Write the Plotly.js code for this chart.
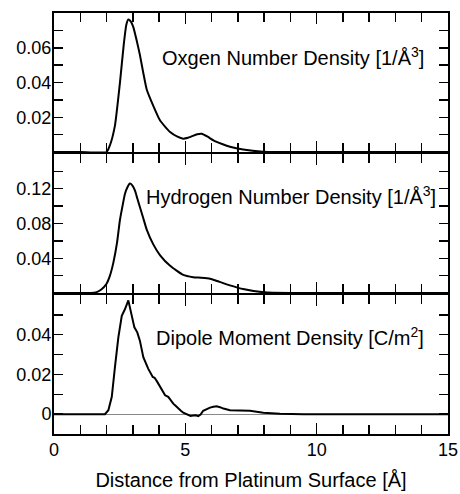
<!DOCTYPE html>
<html>
<head>
<meta charset="utf-8">
<script src="https://cdn.plot.ly/plotly-3.0.1.min.js"></script>
<style>html,body{margin:0;padding:0;background:#fff;}#chart{width:460px;height:494px;}</style>
</head>
<body>
<div id="chart"></div>
<script>
// Oxygen number density [1/Å^3]
const oxygenX = [0, 1.0, 2.0, 2.13, 2.32, 2.51, 2.66, 2.75, 2.83, 2.92, 3.02, 3.15, 3.27, 3.4, 3.53, 3.78, 4.04, 4.42, 4.7, 4.92, 5.1, 5.24, 5.45, 5.62, 5.85, 6.07, 6.4, 6.7, 7.2, 7.96, 9, 12, 15];
const oxygenY = [0, 0, 0, 0.0039, 0.0152, 0.0398, 0.0625, 0.073, 0.0763, 0.0752, 0.0719, 0.064, 0.0559, 0.0455, 0.036, 0.0266, 0.0181, 0.0115, 0.0088, 0.0077, 0.0082, 0.009, 0.0102, 0.0105, 0.0088, 0.0067, 0.0046, 0.003, 0.0014, 0.0002, 0, 0, 0];

// Hydrogen number density [1/Å^3]
const hydrogenX = [0, 1.0, 1.4, 1.62, 1.8, 2.0, 2.13, 2.26, 2.4, 2.51, 2.62, 2.7, 2.8, 2.89, 2.98, 3.08, 3.17, 3.27, 3.4, 3.53, 3.78, 4.04, 4.42, 4.92, 5.3, 5.6, 5.94, 6.3, 6.7, 7.2, 8.0, 9, 12, 15];
const hydrogenY = [0, 0, 0, 0.001, 0.004, 0.0107, 0.02, 0.035, 0.058, 0.084, 0.102, 0.114, 0.122, 0.126, 0.124, 0.118, 0.109, 0.099, 0.086, 0.073, 0.056, 0.0434, 0.0313, 0.0208, 0.0182, 0.0175, 0.0163, 0.0128, 0.0088, 0.0045, 0.0008, 0, 0, 0];

// Dipole moment density [C/m^2]
const dipoleX = [0, 1.0, 1.94, 2.07, 2.2, 2.32, 2.45, 2.58, 2.7, 2.83, 2.96, 3.06, 3.17, 3.27, 3.4, 3.59, 3.76, 3.83, 3.92, 4.04, 4.15, 4.23, 4.35, 4.45, 4.54, 4.63, 4.73, 4.82, 4.92, 5.01, 5.11, 5.2, 5.3, 5.4, 5.49, 5.58, 5.68, 5.8, 5.94, 6.07, 6.19, 6.32, 6.45, 6.7, 7.0, 7.46, 7.97, 8.6, 9.5, 12, 15];
const dipoleY = [0, 0, 0, 0.002, 0.0087, 0.0237, 0.0387, 0.0495, 0.0528, 0.0573, 0.0495, 0.0437, 0.0412, 0.037, 0.0287, 0.0228, 0.0187, 0.0183, 0.0165, 0.0137, 0.0115, 0.0095, 0.0087, 0.0068, 0.0053, 0.0042, 0.0028, 0.0018, 0.0007, 0.0002, -0.0007, -0.0009, -0.0007, -0.0006, -0.001, -0.0002, 0.0017, 0.0026, 0.0033, 0.0037, 0.004, 0.0035, 0.0028, 0.002, 0.0019, 0.0017, 0.0007, 0.0002, 0, 0, 0];

const xTickVals = [0, 5, 10, 15];
const xTickText = ['0', '5', '10', '15'];
const oxygenTicks = [0.02, 0.04, 0.06];
const hydrogenTicks = [0.04, 0.08, 0.12];
const dipoleTicks = [0, 0.02, 0.04];
const labels = ['Oxgen Number Density [1/Å<sup>3</sup>]', 'Hydrogen Number Density [1/Å<sup>3</sup>]', 'Dipole Moment Density [C/m<sup>2</sup>]'];

const font = 'Liberation Sans, Arial, Helvetica, sans-serif';
const lineStyle = {color: '#000', width: 2};
const smoothStyle = {color: '#000', width: 2, shape: 'spline', smoothing: 0.5};

const traces = [
  {x: dipoleX, y: dipoleY, xaxis: 'x', yaxis: 'y', mode: 'lines', line: lineStyle, hoverinfo: 'skip'},
  {x: hydrogenX, y: hydrogenY, xaxis: 'x2', yaxis: 'y2', mode: 'lines', line: smoothStyle, hoverinfo: 'skip'},
  {x: oxygenX, y: oxygenY, xaxis: 'x3', yaxis: 'y3', mode: 'lines', line: smoothStyle, hoverinfo: 'skip'}
];

function xAxis(anchor, showLabels, title) {
  const ax = {
    anchor: anchor, domain: [0, 1], range: [0, 15], showgrid: false, zeroline: false,
    showline: true, linecolor: '#000', linewidth: 2, mirror: 'ticks',
    ticks: 'inside', ticklen: 11, tickwidth: 1.5, tickcolor: '#000',
    tickvals: xTickVals, ticktext: xTickText, showticklabels: showLabels,
    minor: {ticks: 'inside', dtick: 1, ticklen: 9, tickwidth: 1.5, tickcolor: '#000', showgrid: false},
    tickfont: {family: font, size: 18, color: '#000'}, ticklabelstandoff: -2, fixedrange: true
  };
  if (title) ax.title = {text: title, font: {family: font, size: 20, color: '#000'}, standoff: 14};
  return ax;
}
function yAxis(anchor, domain, range, tickv, minorDtick, zl) {
  return {
    anchor: anchor, domain: domain, range: range, showgrid: false,
    zeroline: zl, zerolinecolor: '#888', zerolinewidth: 1,
    showline: true, linecolor: '#000', linewidth: 2, mirror: 'ticks',
    ticks: 'inside', ticklen: 9, tickwidth: 1.5, tickcolor: '#000',
    tickvals: tickv, ticktext: tickv.map(v => String(v)),
    minor: {ticks: 'inside', tick0: 0, dtick: minorDtick, ticklen: 9, tickwidth: 1.5, tickcolor: '#000', showgrid: false},
    tickfont: {family: font, size: 18, color: '#000'}, ticklabelstandoff: -3, fixedrange: true
  };
}

const layout = {
  width: 460, height: 494,
  margin: {l: 54, r: 12, t: 13, b: 60},
  paper_bgcolor: '#fff', plot_bgcolor: '#fff',
  showlegend: false,
  font: {family: font, size: 18, color: '#000'},
  xaxis: xAxis('y', true, 'Distance from Platinum Surface [Å]'),
  xaxis2: xAxis('y2', false),
  xaxis3: xAxis('y3', false),
  yaxis: yAxis('x', [0, 0.3302], [-0.01, 0.06], dipoleTicks, 0.01, true),
  yaxis2: yAxis('x2', [0.3349, 0.6651], [0, 0.16], hydrogenTicks, 0.02, false),
  yaxis3: yAxis('x3', [0.6698, 1], [0, 0.08], oxygenTicks, 0.01, false),
  annotations: [
    {xref: 'paper', yref: 'paper', x: 0.945, y: 0.896, xanchor: 'right', yanchor: 'middle', text: labels[0], showarrow: false, font: {family: font, size: 20, color: '#000'}},
    {xref: 'paper', yref: 'paper', x: 0.975, y: 0.566, xanchor: 'right', yanchor: 'middle', text: labels[1], showarrow: false, font: {family: font, size: 20, color: '#000'}},
    {xref: 'paper', yref: 'paper', x: 0.945, y: 0.232, xanchor: 'right', yanchor: 'middle', text: labels[2], showarrow: false, font: {family: font, size: 20, color: '#000'}}
  ]
};

Plotly.newPlot('chart', traces, layout, {staticPlot: true, displayModeBar: false});
</script>
</body>
</html>
